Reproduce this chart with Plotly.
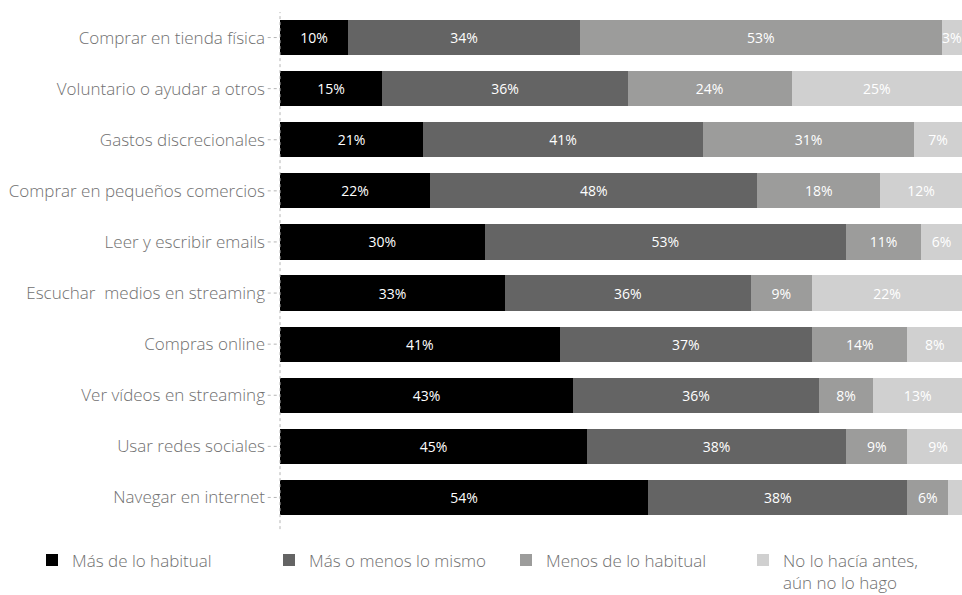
import plotly.graph_objects as go

categories = [
    "Comprar en tienda física",
    "Voluntario o ayudar a otros",
    "Gastos discrecionales",
    "Comprar en pequeños comercios",
    "Leer y escribir emails",
    "Escuchar  medios en streaming",
    "Compras online",
    "Ver vídeos en streaming",
    "Usar redes sociales",
    "Navegar en internet",
]
mas = [10, 15, 21, 22, 30, 33, 41, 43, 45, 54]
igual = [34, 36, 41, 48, 53, 36, 37, 36, 38, 38]
menos = [53, 24, 31, 18, 11, 9, 14, 8, 9, 6]
nunca = [3, 25, 7, 12, 6, 22, 8, 13, 9, 2]
nunca_labels = ["3%", "25%", "7%", "12%", "6%", "22%", "8%", "13%", "9%", ""]

series = [
    ("Más de lo habitual", mas, "#000000", None, 192),
    ("Más o menos lo mismo", igual, "#646464", None, 192),
    ("Menos de lo habitual", menos, "#9c9c9b", None, 192),
    ("No lo hacía antes,<br>aún no lo hago", nunca, "#d0d0d0", nunca_labels, 150),
]

FONT = "Open Sans"
fig = go.Figure()
for name, vals, color, labels, lw in series:
    txt = labels if labels is not None else [f"{v}%" for v in vals]
    fig.add_trace(go.Bar(
        y=categories, x=vals, name=name, orientation="h",
        marker=dict(color=color, line=dict(width=0)),
        text=txt, textposition="inside", insidetextanchor="middle",
        textfont=dict(color="white", size=14, family=FONT),
        textangle=0, constraintext="none", legendwidth=lw,
    ))

# dotted axis line and dotted ticks
fig.add_shape(type="line", xref="paper", yref="paper", x0=0, x1=0, y0=-0.012, y1=1.0,
              line=dict(color="#b5b5b5", width=1, dash="dot"))
for c in categories:
    fig.add_shape(type="line", xref="paper", yref="y", x0=-0.018, x1=0, y0=c, y1=c,
                  line=dict(color="#b5b5b5", width=1, dash="dot"))

fig.update_layout(
    width=962, height=595,
    barmode="stack", bargap=0.31,
    plot_bgcolor="white", paper_bgcolor="white",
    margin=dict(l=280, r=0, t=12, b=72, autoexpand=False),
    font=dict(family=FONT, color="#707070", size=17),
    xaxis=dict(range=[0, 100], visible=False, fixedrange=True),
    yaxis=dict(autorange="reversed", showgrid=False, showline=False, ticks="",
               ticklabelstandoff=14,
               tickfont=dict(size=17, color="#707070", family=FONT, weight=300)),
    legend=dict(orientation="h", xref="paper", yref="paper",
                x=(32 - 280) / 682, y=-0.038, xanchor="left", yanchor="top",
                entrywidthmode="pixels",
                font=dict(size=17, color="#707070", family=FONT, weight=300),
                traceorder="normal", itemclick=False, valign="top"),
    showlegend=True,
)
fig.write_html("out.html")
